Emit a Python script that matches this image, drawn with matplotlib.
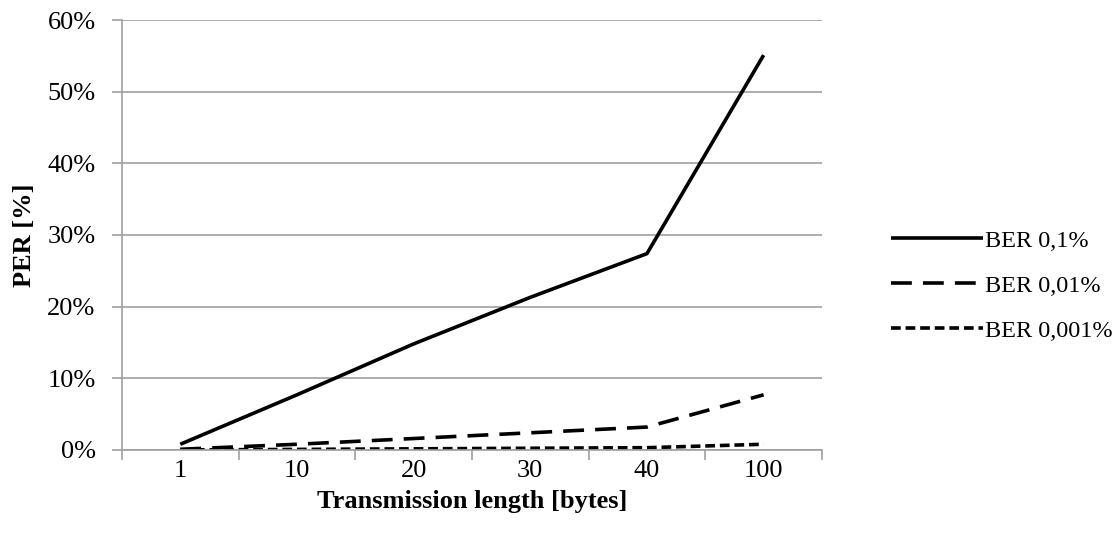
import matplotlib
matplotlib.use("Agg")
import matplotlib.pyplot as plt
from matplotlib.ticker import PercentFormatter, FixedLocator

categories = ["1", "10", "20", "30", "40", "100"]
ber_01 = [0.8, 7.7, 14.8, 21.3, 27.4, 55.1]
ber_001 = [0.1, 0.8, 1.6, 2.4, 3.2, 7.7]
ber_0001 = [0.01, 0.08, 0.16, 0.24, 0.32, 0.8]
series_names = ["BER 0,1%", "BER 0,01%", "BER 0,001%"]
yticks = [0, 10, 20, 30, 40, 50, 60]

plt.rcParams['font.family'] = ['Liberation Serif', 'DejaVu Serif']
plt.rcParams['lines.scale_dashes'] = False

fig = plt.figure(figsize=(11.18, 5.38), dpi=100)
ax = fig.add_axes([0.1091, 0.1636, 0.6261, 0.7992])

x = list(range(len(categories)))
lw = 2.6
ax.plot(x, ber_01, color='black', lw=lw, label=series_names[0], solid_capstyle='butt')
ax.plot(x, ber_001, color='black', lw=lw, dashes=(15, 8), label=series_names[1])
ax.plot(x, ber_0001, color='black', lw=lw, dashes=(7, 3.5), label=series_names[2])

ax.set_xlim(-0.5, len(categories) - 0.5)
ax.set_ylim(0, 60)
ax.set_yticks(yticks)
ax.yaxis.set_major_formatter(PercentFormatter(decimals=0))
ax.set_xticks(x)
ax.set_xticklabels(categories)
ax.xaxis.set_minor_locator(FixedLocator([i - 0.5 for i in range(len(categories) + 1)]))
ax.tick_params(axis='x', which='major', length=0, pad=7, labelsize=19)
ax.tick_params(axis='x', which='minor', length=7, width=1.2, color='#a0a0a0', direction='out')
ax.tick_params(axis='y', which='major', length=7, width=1.2, color='#a0a0a0', labelsize=19, pad=12)

ax.grid(axis='y', color='#a0a0a0', lw=1.2)
ax.set_axisbelow(True)
for s in ['top', 'right']:
    ax.spines[s].set_visible(False)
for s in ['left', 'bottom']:
    ax.spines[s].set_color('#a0a0a0')
    ax.spines[s].set_linewidth(1.2)

ax.set_xlabel("Transmission length [bytes]", fontsize=19, fontweight='bold', labelpad=6)
ax.set_ylabel("PER [%]", fontsize=19, fontweight='bold', labelpad=8)

leg = fig.legend(loc='center left', bbox_to_anchor=(0.777, 0.469), frameon=False, fontsize=17.5,
                 handlelength=3.8, handletextpad=0.1, labelspacing=0.95)

fig.savefig("out.png", dpi=100)
